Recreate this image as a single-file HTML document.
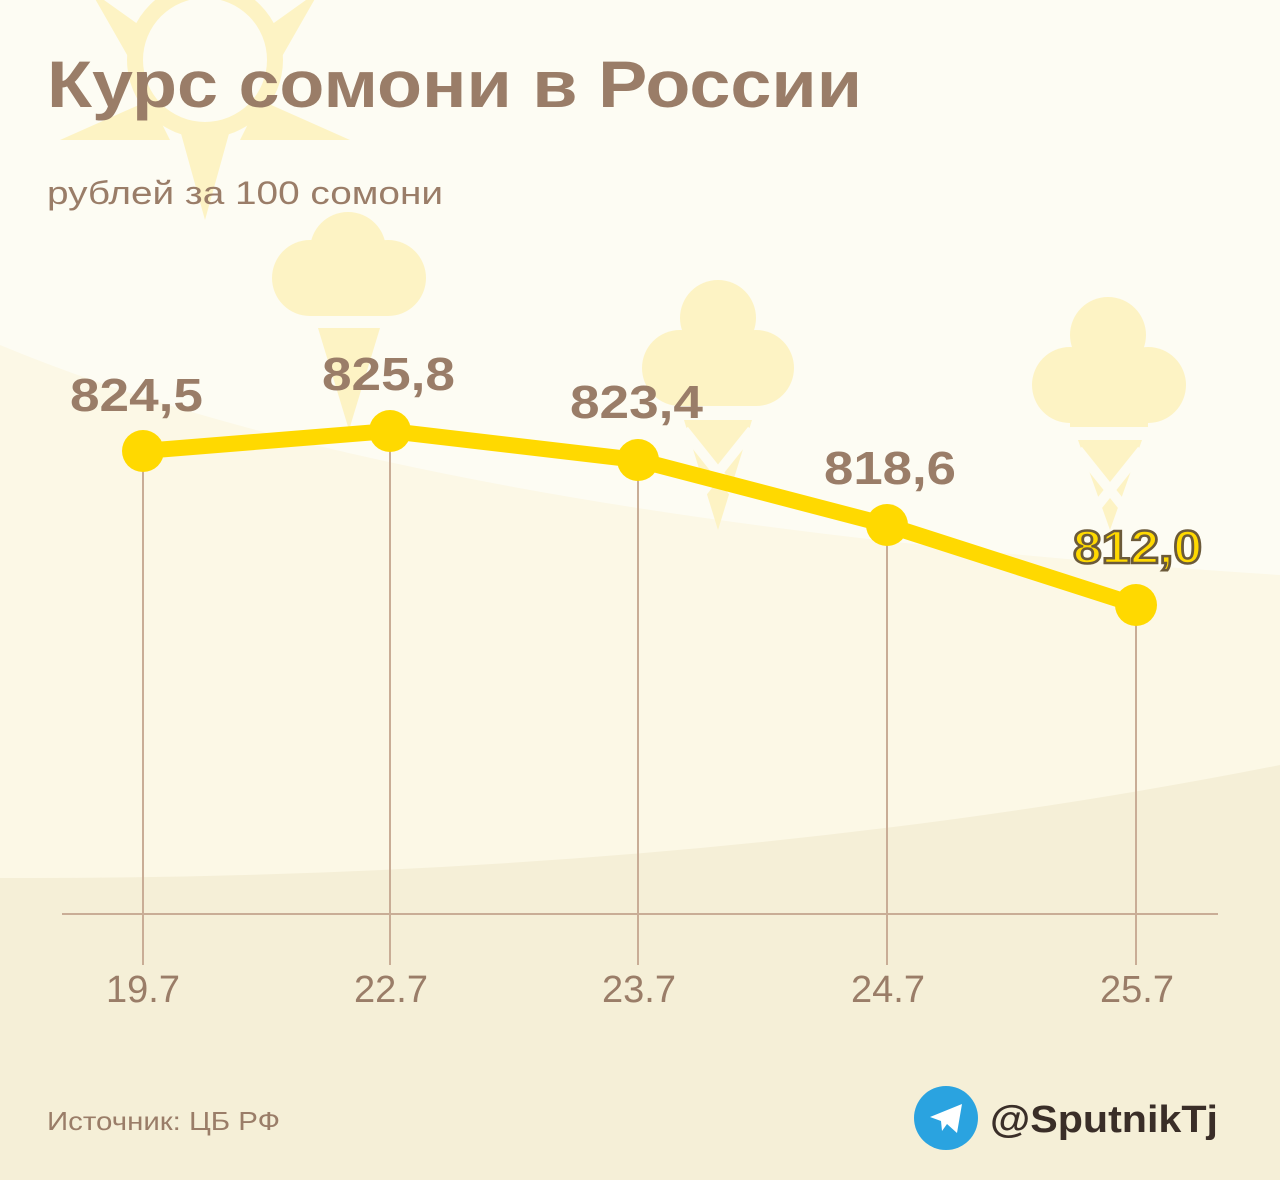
<!DOCTYPE html>
<html><head><meta charset="utf-8"><style>
html,body{margin:0;padding:0;width:1280px;height:1180px;overflow:hidden;background:#fdfcf3}
</style></head><body>
<svg width="1280" height="1180" viewBox="0 0 1280 1180" xmlns="http://www.w3.org/2000/svg" font-family="Liberation Sans, sans-serif">
<rect width="1280" height="1180" fill="#fdfcf3"/>
<path d="M0 345 Q 420 520 1280 575 L1280 1180 L0 1180 Z" fill="#fcf8e6"/>
<path d="M0 878 Q 700 880 1280 765 L1280 1180 L0 1180 Z" fill="#f5efd7"/>
<g fill="#fdf3c4">
<circle cx="205" cy="60" r="78"/>
<path d="M205 -40 L230 40 L180 40Z M205 220 L230 130 L180 130Z M60 140 L150 100 L170 140Z M350 140 L260 100 L240 140Z M90 -10 L160 40 L130 60Z M320 -10 L250 40 L280 60Z"/>
</g>
<circle cx="205" cy="60" r="62" fill="#fdfcf3"/>
<g fill="#fdf3c4">
<circle cx="348" cy="250" r="38"/><circle cx="310" cy="278" r="38"/><circle cx="388" cy="278" r="38"/><rect x="310" y="260" width="78" height="56"/>
<path d="M318 328 L380 328 L349 430Z"/>
<circle cx="718" cy="318" r="38"/><circle cx="680" cy="368" r="38"/><circle cx="756" cy="368" r="38"/><rect x="680" y="340" width="76" height="66"/>
<path d="M684 420 L752 420 L718 530Z"/>
<circle cx="1108" cy="335" r="38"/><circle cx="1070" cy="385" r="38"/><circle cx="1148" cy="385" r="38"/><rect x="1070" y="360" width="78" height="67"/>
<path d="M1078 440 L1142 440 L1110 530Z"/>
</g>
<g stroke="#fdfcf3" stroke-width="10">
<path d="M1078 450 L1130 515 M1142 450 L1090 515 M684 430 L740 500 M752 430 L696 500"/>
</g>
<text x="47" y="107" font-size="66" font-weight="bold" fill="#9a7d68" textLength="815" lengthAdjust="spacingAndGlyphs">Курс сомони в России</text>
<text x="47" y="204" font-size="32" fill="#9a7d68" textLength="396" lengthAdjust="spacingAndGlyphs">рублей за 100 сомони</text>
<g stroke="#c9ad96" stroke-width="2">
<line x1="62" y1="914" x2="1218" y2="914"/>
<line x1="143" y1="451" x2="143" y2="965"/>
<line x1="390" y1="431" x2="390" y2="965"/>
<line x1="638" y1="460" x2="638" y2="965"/>
<line x1="887" y1="525" x2="887" y2="965"/>
<line x1="1136" y1="605" x2="1136" y2="965"/>
</g>
<polyline points="143,451 390,431 638,460 887,525 1136,605" fill="none" stroke="#ffd900" stroke-width="16" stroke-linejoin="round"/>
<g fill="#ffd900">
<circle cx="143" cy="451" r="21"/><circle cx="390" cy="431" r="21"/><circle cx="638" cy="460" r="21"/><circle cx="887" cy="525" r="21"/><circle cx="1136" cy="605" r="21"/>
</g>
<g font-size="46" font-weight="bold" fill="#9a7d68">
<text x="70" y="411" textLength="133" lengthAdjust="spacingAndGlyphs">824,5</text>
<text x="322" y="390" textLength="133" lengthAdjust="spacingAndGlyphs">825,8</text>
<text x="570" y="418" textLength="133" lengthAdjust="spacingAndGlyphs">823,4</text>
<text x="824" y="484" textLength="132" lengthAdjust="spacingAndGlyphs">818,6</text>
<text x="1073" y="563" fill="#ffd900" stroke="#6b5a3a" stroke-width="2.5" textLength="129" lengthAdjust="spacingAndGlyphs">812,0</text>
</g>
<g font-size="38" fill="#9a7d68" text-anchor="middle">
<text x="143" y="1002">19.7</text>
<text x="391" y="1002">22.7</text>
<text x="639" y="1002">23.7</text>
<text x="888" y="1002">24.7</text>
<text x="1137" y="1002">25.7</text>
</g>
<text x="47" y="1130" font-size="26" fill="#9a7d68" textLength="233" lengthAdjust="spacingAndGlyphs">Источник: ЦБ РФ</text>
<circle cx="946" cy="1118" r="32" fill="#2aa3e0"/>
<path d="M930 1117 L962 1104 L957 1133 L947 1124 L942 1131 L941 1121 Z" fill="#fff"/>
<text x="990" y="1132" font-size="38" font-weight="bold" fill="#3a2e28" textLength="228" lengthAdjust="spacingAndGlyphs">@SputnikTj</text>
</svg>
</body></html>
